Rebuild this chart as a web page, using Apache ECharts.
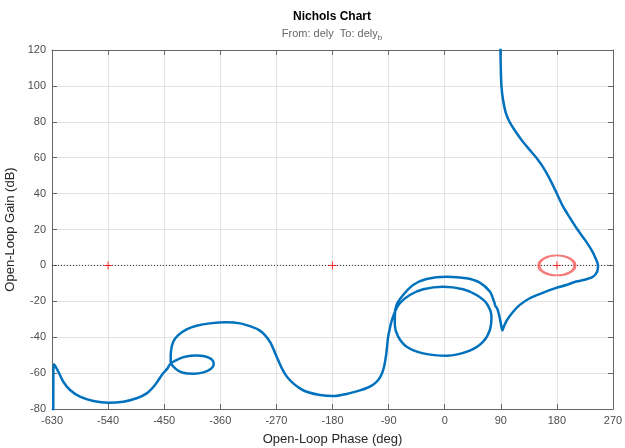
<!DOCTYPE html>
<html>
<head>
<meta charset="utf-8">
<script src="https://cdn.jsdelivr.net/npm/echarts@6/dist/echarts.min.js"></script>
<style>
html,body{margin:0;padding:0;background:#fff;}
#chart{width:625px;height:448px;}
</style>
</head>
<body>
<div id="chart"></div>
<script>
// Open-loop phase (deg) and gain (dB) along the Nichols curve
const phaseDeg = [89.5, 89.5, 90, 91, 93.7, 98, 104, 112, 123, 136, 147, 157, 167, 177, 190, 201, 213, 225, 235.5, 242, 246, 244.5, 238, 227.5, 211, 195, 176.6, 158, 136.5, 120.5, 109.8, 100, 95, 92.5, 90, 87.3, 84, 81, 80.4, 79.3, 72.4, 56.3, 35, 3, -29.2, -50.7, -66.7, -77.3, -80, -80, -74.7, -61, -34.5, 3, 40.3, 61.7, 72.4, 75, 67, 51, 29.6, -2.4, -34.5, -56, -72, -80, -86, -88.5, -90.7, -93, -94.4, -97, -101, -107, -115, -125, -136, -157.4, -178.9, -200.2, -221.6, -232.3, -243, -250, -256, -262, -268, -274, -280, -288.4, -297, -307.2, -328.5, -349.8, -376.6, -398, -414, -427.5, -435.5, -439.2, -439.6, -432, -420, -403, -387, -375, -370.5, -374, -385, -400, -415, -428, -439.5, -445, -451.5, -464.8, -478.1, -494.2, -515.7, -539.7, -563.8, -585.1, -601.1, -611.9, -619.9, -626.8, -627.8, -628];
const gainDb = [130, 120, 110, 100, 92, 85, 80, 75.4, 70, 64.5, 60, 55.2, 49.2, 42.2, 32.7, 26.5, 20, 14.2, 8.6, 4, 0, -3.5, -6.3, -7.7, -9, -10.9, -12.8, -15.2, -18.3, -22, -25.8, -30.4, -34, -36.3, -32.3, -27.6, -23.9, -22.5, -21.5, -20.2, -14.6, -9.6, -7.2, -6.3, -7.6, -10.9, -16.5, -22, -28, -33.2, -39.7, -45.3, -49, -50.3, -47.5, -42.5, -36, -28.6, -21.1, -16.5, -13.3, -11.9, -13.3, -16.5, -21.1, -26, -32, -36, -39.7, -47, -50.9, -56, -60.5, -64, -66.5, -68.3, -69.6, -71.6, -72.8, -72.2, -70.4, -68.5, -65.7, -63.3, -60.6, -56.8, -52.2, -47.2, -42.8, -38.8, -36.2, -34.5, -32.3, -31.7, -32.3, -33.6, -35.6, -38.8, -42.5, -48.1, -53.5, -57.5, -59.8, -60.4, -59.6, -57.6, -55, -52.3, -50.6, -50.2, -50.8, -52.3, -54.6, -57.5, -60, -66.6, -71.3, -74, -75.9, -76.5, -75.5, -73.1, -69.4, -64.8, -59.2, -55, -60, -90];
// critical points (-1 point at each phase wrap)
const critPhase = [-540, -180, 180];
const critGain = [0, 0, 0];
// highlighted critical point
const ringPhase = [180];
const ringGain = [0];
// axis ranges
const xMin = -630, xMax = 270, xStep = 90;
const yMin = -80, yMax = 120, yStep = 20;

const curve = phaseDeg.map((p, i) => [p, gainDb[i]]);
const crit = critPhase.map((p, i) => [p, critGain[i]]);
const ring = ringPhase.map((p, i) => [p, ringGain[i]]);

const axisCol = '#666';
const txtCol = '#4d4d4d';
const font = 'Liberation Sans, Arial, Helvetica, sans-serif';

const chart = echarts.init(document.getElementById('chart'), null, {renderer: 'canvas'});
chart.setOption({
  animation: false,
  backgroundColor: '#fff',
  grid: {left: 52, right: 12, top: 50, bottom: 39, containLabel: false, outerBoundsMode: 'none'},
  graphic: [
    {type: 'text', x: 332, y: 17, style: {text: 'Nichols Chart', font: 'bold 12px ' + font, fill: '#000', textAlign: 'center', textVerticalAlign: 'middle'}},
    {type: 'text', x: 332, y: 34, style: {text: 'From: dely  To: dely{sub|b}', font: '11px ' + font, fill: '#666', textAlign: 'center', textVerticalAlign: 'middle',
      rich: {sub: {fontSize: 8, fill: '#666', padding: [8, 0, 0, 0], fontFamily: font}}}}
  ],
  xAxis: [
    {type: 'value', min: xMin, max: xMax, interval: xStep, position: 'bottom',
     name: 'Open-Loop Phase (deg)', nameLocation: 'middle', nameGap: 24,
     nameTextStyle: {color: '#262626', fontSize: 13, fontFamily: font},
     axisLine: {show: true, onZero: false, lineStyle: {color: axisCol, width: 1}},
     axisTick: {show: true, inside: true, length: 5, lineStyle: {color: axisCol}},
     axisLabel: {color: txtCol, fontSize: 11, fontFamily: font, margin: 6},
     splitLine: {show: true, lineStyle: {color: '#e3e3e3', width: 1}}},
    {type: 'value', min: xMin, max: xMax, interval: xStep, position: 'top',
     axisLine: {show: true, onZero: false, lineStyle: {color: axisCol, width: 1}},
     axisTick: {show: true, inside: true, length: 5, lineStyle: {color: axisCol}},
     axisLabel: {show: false}, splitLine: {show: false}}
  ],
  yAxis: [
    {type: 'value', min: yMin, max: yMax, interval: yStep, position: 'left',
     name: 'Open-Loop Gain (dB)', nameLocation: 'middle', nameGap: 33, nameRotate: 90,
     nameTextStyle: {color: '#262626', fontSize: 13, fontFamily: font},
     axisLine: {show: true, onZero: false, lineStyle: {color: axisCol, width: 1}},
     axisTick: {show: true, inside: true, length: 5, lineStyle: {color: axisCol}},
     axisLabel: {color: txtCol, fontSize: 11, fontFamily: font, margin: 6},
     splitLine: {show: true, lineStyle: {color: '#e3e3e3', width: 1}}},
    {type: 'value', min: yMin, max: yMax, interval: yStep, position: 'right',
     axisLine: {show: true, onZero: false, lineStyle: {color: axisCol, width: 1}},
     axisTick: {show: true, inside: true, length: 5, lineStyle: {color: axisCol}},
     axisLabel: {show: false}, splitLine: {show: false}}
  ],
  series: [
    {type: 'line', data: [[xMin, 0], [xMax, 0]], symbol: 'none', silent: true,
     lineStyle: {color: '#333', width: 1, type: [1, 2]}, z: 2},
    {type: 'scatter', data: ring, symbol: 'circle', symbolSize: [36, 20],
     itemStyle: {color: 'rgba(0,0,0,0)', borderColor: '#f25a5a', borderWidth: 2.5}, z: 3},
    {type: 'scatter', data: crit, symbol: 'path://M4.4,0h1.2v4.4h4.4v1.2h-4.4v4.4h-1.2v-4.4h-4.4v-1.2h4.4z', symbolSize: 8,
     itemStyle: {color: '#ff0000'}, z: 4},
    {type: 'line', data: curve, symbol: 'none', smooth: 0.3, clip: true,
     lineStyle: {color: '#0072BD', width: 2.5}, z: 5}
  ]
});
</script>
</body>
</html>
